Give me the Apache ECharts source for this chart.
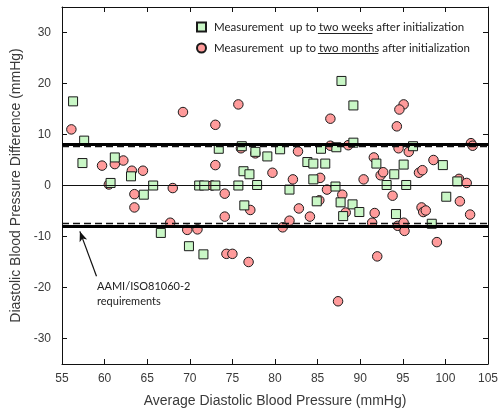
<!DOCTYPE html>
<html>
<head>
<meta charset="utf-8">
<script src="https://cdn.jsdelivr.net/npm/echarts@6/dist/echarts.min.js"></script>
<style>
  html, body { margin: 0; padding: 0; background: #fff; overflow: hidden; }
  #main { width: 503px; height: 409px; }
</style>
</head>
<body>
<div id="main"></div>
<script>
// measurement up to two weeks (squares): [average, difference]
var twoWeeks = [
  [56.3, 16.5], [57.6, 8.8], [57.4, 4.4], [61.2, 5.5], [63.1, 1.8], [60.7, 0.5],
  [65.7, 0], [64.6, -1.8], [66.6, -9.3], [69.9, -11.9], [71.6, -13.5],
  [71.1, 0], [71.7, 0], [73.0, 0], [75.7, 0], [77.9, 0.1],
  [73.4, 7.2], [76.1, 7.7], [77.7, 6.6], [79.1, 5.7], [76.3, 2.8], [77.0, 2.2], [76.4, -3.9],
  [80.6, 7.1], [83.8, 4.6], [84.5, 4.3], [85.9, 4.3], [85.4, 7.2], [87.2, 7.5], [84.5, 1.2],
  [81.7, -0.8], [87.1, -0.2], [84.9, -3.1], [87.7, -3.3], [88.0, -6.0], [89.1, -3.7], [89.9, -5.2],
  [87.8, 20.5], [89.2, 15.7], [89.2, 8.4], [91.9, 4.3], [95.1, 4.1], [94.0, 2.2], [93.1, 0.1],
  [95.4, 0.1], [94.2, -5.6], [96.2, 7.7], [99.7, 4.0], [101.4, 0.8], [100.1, -2.2], [98.4, -7.5]
];
// measurement up to two months (circles)
var twoMonths = [
  [56.1, 11.0], [69.2, 14.4], [59.7, 3.9], [61.2, 4.2], [62.2, 4.9], [63.2, 2.9], [64.5, 2.9],
  [60.5, 0.2], [68.0, -0.5], [63.5, -1.7], [63.5, -4.3], [67.7, -7.3], [69.7, -8.7], [70.9, -8.6],
  [72.6, 0], [74.1, -1.6], [73.0, 11.9], [75.7, 15.9], [73.0, 4.0], [77.7, 6.3], [76.0, 7.3],
  [79.7, 2.5], [74.1, -6.1], [77.1, -4.8], [74.3, -13.4], [75.0, -13.4], [76.9, -15.0],
  [82.7, 6.7], [82.1, 1.2], [85.3, 1.5], [86.1, -0.8], [85.2, -2.9], [82.8, -4.5], [84.1, -6.1],
  [81.7, -6.9], [80.9, -8.2], [88.3, -5.3], [87.9, -1.8], [86.5, 13.1], [86.5, 7.8], [88.6, 7.9],
  [87.4, -22.7], [91.6, 5.5], [92.4, 2.0], [92.7, 2.6], [90.4, 1.2], [93.8, -2.0], [91.7, -5.4],
  [91.4, -7.3], [92.0, -13.9], [95.1, 15.9], [94.6, 14.9], [94.3, 11.6], [94.5, 7.3], [95.7, 6.6],
  [96.9, 2.5], [97.3, 3.0], [98.6, 5.0], [94.4, -7.9], [95.1, -7.3], [95.2, -8.9], [97.2, -4.3],
  [97.4, -5.2], [97.7, -4.9], [99.0, -11.1], [101.6, 1.3], [102.5, 0.5], [101.7, -3.1],
  [102.9, -5.7], [103.0, 8.3], [103.2, 7.8]
];
var isoLimits = [8, -8];          // AAMI/ISO81060-2 requirement
var agreeLimits = [7.6, -7.4];    // dashed limits
var yTicks = [-30, -20, -10, 0, 10, 20, 30];
var arrowFrom = [59.05, -17.8];
var arrowTo = [57.1, -9.0];

var prefix = 'Measurement  up to ';
var names = [
  prefix + 'two weeks after initialization',
  prefix + 'two months after initialization'
];
var underlined = ['two weeks', 'two months'];

var legFontSize = 11.5;
var legLeft = 196, legTop = 21, legStep = 20, legPad = 3;

// underline under "two weeks" / "two months" (legend text has no underline option)
var ctx = document.createElement('canvas').getContext('2d');
ctx.font = legFontSize + 'px Lato';
var underlines = [];
for (var i = 0; i < names.length; i++) {
  var x0 = legLeft + 9 + 5 + legPad + ctx.measureText(prefix).width;
  var x1 = x0 + ctx.measureText(underlined[i]).width;
  var yy = Math.round(legTop + 5.5 + i * legStep + 6) + 0.5;
  underlines.push({
    type: 'line', silent: true,
    shape: { x1: x0, y1: yy, x2: x1, y2: yy },
    style: { stroke: '#222', lineWidth: 1 }
  });
}

var lineData = [];
isoLimits.forEach(function (v) {
  lineData.push({ yAxis: v, lineStyle: { color: '#000', width: 3, type: 'solid' } });
});
agreeLimits.forEach(function (v) {
  lineData.push({ yAxis: v, lineStyle: { color: '#111', width: 1.3, type: [7, 4] } });
});
lineData.push({ yAxis: 0, lineStyle: { color: '#111', width: 1, type: 'solid' } });
lineData.push([
  { coord: arrowFrom, symbol: 'none' },
  { coord: arrowTo, symbol: 'arrow', symbolSize: [6, 10], lineStyle: { color: '#111', width: 1.2, type: 'solid' } }
]);

var axisCommon = {
  type: 'value',
  splitLine: { show: false },
  axisLine: { show: true, onZero: false, lineStyle: { color: '#111', width: 1 } },
  axisTick: { show: true, inside: true, length: 5, lineStyle: { color: '#111' } }
};

var myChart = echarts.init(document.getElementById('main'));
myChart.setOption({
  animation: false,
  grid: { left: 62, right: 15, top: 7, bottom: 45, containLabel: false, outerBoundsMode: 'none' },
  legend: {
    orient: 'vertical',
    left: legLeft, top: legTop, padding: 0,
    itemWidth: 9, itemHeight: 9, itemGap: legStep - 11,
    data: names,
    textStyle: { fontFamily: 'Lato', fontSize: legFontSize, color: '#222', lineHeight: 11, padding: [0, 0, 0, legPad] },
    selectedMode: false
  },
  xAxis: [
    Object.assign({}, axisCommon, {
      position: 'bottom', min: 55, max: 105, interval: 5,
      axisLabel: { color: '#3a3a3a', fontSize: 12, fontFamily: 'Liberation Sans', margin: 9 },
      name: 'Average Diastolic Blood Pressure (mmHg)',
      nameLocation: 'middle', nameGap: 30,
      nameTextStyle: { color: '#3a3a3a', fontSize: 14, fontFamily: 'Liberation Sans' }
    }),
    Object.assign({}, axisCommon, {
      position: 'top', min: 55, max: 105, interval: 5,
      axisLabel: { show: false }
    })
  ],
  yAxis: [
    Object.assign({}, axisCommon, {
      position: 'left', min: -35, max: 35,
      axisTick: { show: true, inside: true, length: 5, lineStyle: { color: '#111' }, customValues: yTicks },
      axisLabel: { color: '#3a3a3a', fontSize: 12, fontFamily: 'Liberation Sans', margin: 11, customValues: yTicks },
      name: 'Diastolic Blood Pressure Difference (mmHg)',
      nameLocation: 'middle', nameGap: 32,
      nameTextStyle: { color: '#3a3a3a', fontSize: 14, fontFamily: 'Liberation Sans' }
    }),
    Object.assign({}, axisCommon, {
      position: 'right', min: -35, max: 35,
      axisTick: { show: true, inside: true, length: 5, lineStyle: { color: '#111' }, customValues: yTicks },
      axisLabel: { show: false }
    })
  ],
  graphic: [
    {
      type: 'text', left: 97, top: 279, silent: true,
      style: { text: 'AAMI/ISO81060-2\nrequirements', fontFamily: 'Lato', fontSize: 11, lineHeight: 15, fill: '#222' }
    }
  ].concat(underlines),
  series: [
    {
      type: 'scatter', name: 'lines', data: [], z: 1, silent: true,
      markLine: {
        silent: true, symbol: ['none', 'none'], label: { show: false },
        emphasis: { disabled: true },
        data: lineData
      }
    },
    {
      type: 'scatter', name: names[1], data: twoMonths, z: 3,
      symbol: 'circle', symbolSize: 9.5,
      itemStyle: { color: '#ff9b9b', borderColor: '#1a1a1a', borderWidth: 1, opacity: 1 }
    },
    {
      type: 'scatter', name: names[0], data: twoWeeks, z: 4,
      symbol: 'rect', symbolSize: 9,
      itemStyle: { color: '#c9f7c6', borderColor: '#1a1a1a', borderWidth: 1, opacity: 1 }
    }
  ]
});
</script>
</body>
</html>
